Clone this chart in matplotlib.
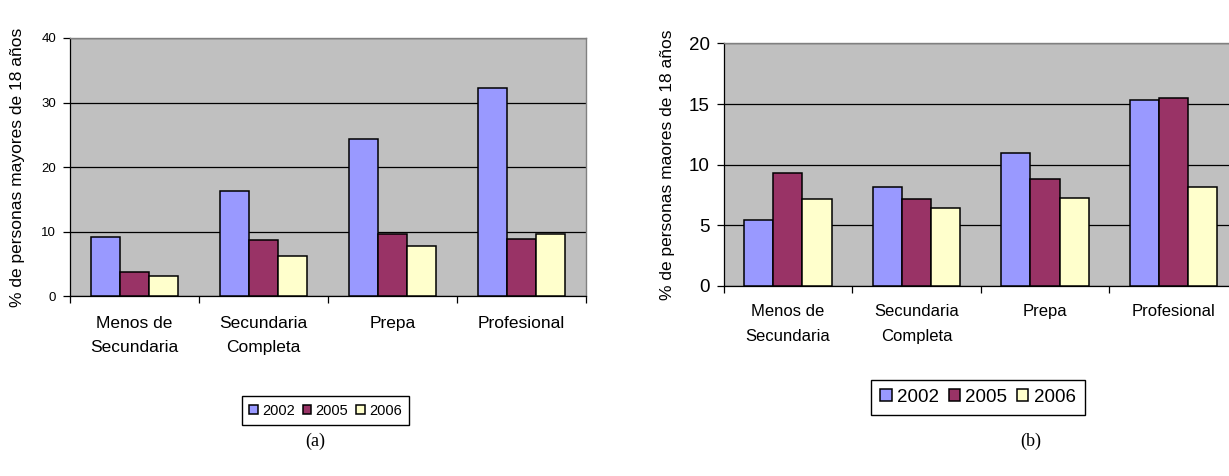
import numpy as np
import matplotlib.pyplot as plt

plt.rcParams['font.family'] = ['Liberation Sans', 'DejaVu Sans']

niveles = ['Menos de\nSecundaria', 'Secundaria\nCompleta', 'Prepa', 'Profesional']
anios = ['2002', '2005', '2006']
colores = ['#9999FF', '#993366', '#FFFFCC']

# (a) % de personas mayores de 18 años, por nivel educativo
panel_a = {
    '2002': [9.2, 16.3, 24.4, 32.3],
    '2005': [3.8, 8.7, 9.7, 8.9],
    '2006': [3.2, 6.2, 7.8, 9.7],
}
# (b)
panel_b = {
    '2002': [5.4, 8.15, 11.0, 15.35],
    '2005': [9.3, 7.15, 8.85, 15.5],
    '2006': [7.15, 6.4, 7.25, 8.15],
}


def barras(ax, datos, ymax, paso, fs_tick, fs_cat, fs_lab, ylabel, sep, pad_cat):
    x = np.arange(len(niveles))
    w = 0.227
    for i, a in enumerate(anios):
        ax.bar(x + (i - 1) * w, datos[a], w, color=colores[i], edgecolor='black',
               linewidth=1.1, label=a, zorder=3)
    ax.set_facecolor('#C0C0C0')
    ax.set_xlim(-0.5, len(niveles) - 0.5)
    ax.set_ylim(0, ymax)
    ax.set_yticks(np.arange(0, ymax + 1, paso))
    ax.yaxis.grid(True, color='black', linewidth=0.9, zorder=1)
    ax.set_axisbelow(True)
    # marcas en los límites de categoría, etiquetas al centro
    ax.set_xticks(np.arange(-0.5, len(niveles), 1.0))
    ax.set_xticklabels([])
    ax.set_xticks(x, minor=True)
    ax.set_xticklabels(niveles, minor=True, fontsize=fs_cat, linespacing=sep)
    ax.tick_params(axis='x', which='minor', length=0, pad=pad_cat)
    ax.tick_params(axis='x', which='major', length=5, width=0.9, direction='out')
    ax.tick_params(axis='y', length=5, width=0.9, direction='out', labelsize=fs_tick, pad=5)
    for s in ['top', 'right']:
        ax.spines[s].set_color('#808080')
        ax.spines[s].set_linewidth(1.0)
    for s in ['left', 'bottom']:
        ax.spines[s].set_color('black')
        ax.spines[s].set_linewidth(0.9)
    ax.set_ylabel(ylabel, fontsize=fs_lab)


fig = plt.figure(figsize=(12.29, 4.76), dpi=100)

ax1 = fig.add_axes([0.0570, 0.3775, 0.4198, 0.5427])
barras(ax1, panel_a, 40, 10, 9.5, 12.5, 12.5, '% de personas mayores de 18 años', 1.75, 14)
ax1.yaxis.labelpad = 12

ax2 = fig.add_axes([0.5887, 0.3992, 0.4186, 0.5095])
barras(ax2, panel_b, 20, 5, 13.5, 12, 12.5, '% de personas maores de 18 años', 1.85, 13)
ax2.yaxis.labelpad = 10

h, l = ax1.get_legend_handles_labels()
for pos, fs in [((0.2649, 0.1376), 10.5), ((0.7958, 0.1649), 13.5)]:
    fig.legend(h, l, loc='center', bbox_to_anchor=pos, ncol=3, fontsize=fs,
               frameon=True, fancybox=False, edgecolor='black', framealpha=1,
               handlelength=0.6, handleheight=0.6, handletextpad=0.3,
               columnspacing=0.5, borderpad=0.5)

fig.text(0.2563, 0.073, '(a)', ha='center', va='center', fontsize=13, family='Liberation Serif')
fig.text(0.8385, 0.073, '(b)', ha='center', va='center', fontsize=13, family='Liberation Serif')

fig.savefig('out.png', dpi=100)
